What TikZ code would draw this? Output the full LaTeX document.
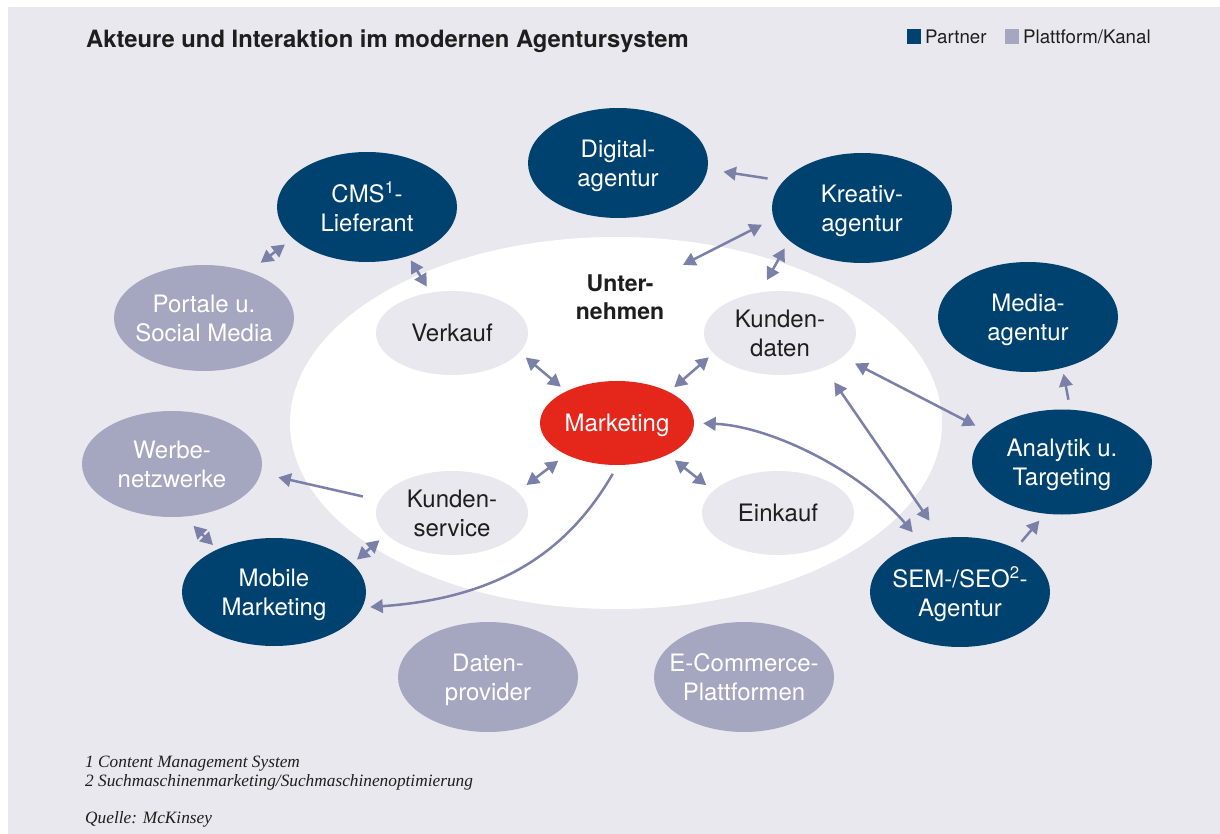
\documentclass[tikz,border=0pt]{standalone}
\usepackage{fontspec}
\setmainfont{TeX Gyre Heros}
\newfontfamily\notesfont{Liberation Serif}
\usetikzlibrary{shapes.geometric,arrows.meta}
\definecolor{bgc}{RGB}{233,232,239}
\definecolor{navy}{RGB}{0,66,111}
\definecolor{plat}{RGB}{165,166,192}
\definecolor{arrowc}{RGB}{122,128,168}
\definecolor{mred}{RGB}{228,38,27}
\definecolor{ink}{RGB}{30,30,30}
\newcommand\mynodefont{\fontsize{24}{29}\selectfont}
\begin{document}
\begin{tikzpicture}[x=1pt,y=-1pt,
  blob/.style={ellipse, inner sep=0pt, inner xsep=-40pt, align=center, text depth=0pt, font=\mynodefont},
  partner/.style={blob, fill=navy, text=white, minimum width=180pt, minimum height=110pt},
  platform/.style={blob, fill=plat, text=white, minimum width=180pt, minimum height=106pt},
  innerblob/.style={blob, fill=bgc, text=ink, minimum width=152pt, minimum height=84pt},
  onehead/.style={draw=arrowc, line width=2.5pt, -{Triangle[length=12.5pt,width=13.5pt]}},
  twohead/.style={draw=arrowc, line width=2.5pt, {Triangle[length=12.5pt,width=13.5pt]}-{Triangle[length=12.5pt,width=13.5pt]}},
  legtext/.style={anchor=base west, inner sep=0pt, text=ink, font=\fontsize{18.7}{22}\selectfont},
  note/.style={anchor=base west, inner sep=0pt, text=ink, font=\notesfont\itshape\fontsize{17.3}{20}\selectfont}
]
\useasboundingbox (0,0) rectangle (1220,834);
\fill[white] (0,0) rectangle (1220,834);
\fill[bgc] (8,7) rectangle (1220,834);

% title and legend
\node[anchor=base west, inner sep=0pt, text=ink, font=\bfseries\fontsize{23.8}{28}\selectfont] (title) at (86,48) {Akteure und Interaktion im modernen Agentursystem};
\node[fill=navy, minimum width=14pt, minimum height=15pt, inner sep=0pt] (legpartner) at (914,36.5) {};
\node[legtext] (legpartnertext) at (925,43.5) {Partner};
\node[fill=plat, minimum width=14pt, minimum height=15pt, inner sep=0pt] (legplat) at (1012,36.5) {};
\node[legtext] (legplattext) at (1023,43.5) {Plattform/Kanal};

% company
\node[ellipse, fill=white, minimum width=652pt, minimum height=372pt, inner sep=0pt] (unt) at (616,423) {};
\node[align=center, inner sep=0pt, text=ink, font=\bfseries\fontsize{23}{28}\selectfont] (untlabel) at (620,297) {Unter-\\nehmen};

% inner units
\node[innerblob] (ver) at (452,333) {Verkauf};
\node[innerblob] (kud) at (780,333) {Kunden-\\daten};
\node[blob, fill=mred, text=white, minimum width=154pt, minimum height=84pt] (mkt) at (617,423) {Marketing};
\node[innerblob] (kus) at (452,513) {Kunden-\\service};
\node[innerblob] (ein) at (778,513) {Einkauf};

% partners
\node[partner] (dig) at (618,163) {Digital-\\agentur};
\node[partner] (kre) at (862,208) {Kreativ-\\agentur};
\node[partner] (cms) at (367,207) {CMS\textsuperscript{1}-\\Lieferant};
\node[partner] (med) at (1028,317) {Media-\\agentur};
\node[partner, minimum height=105pt] (ana) at (1062,462) {Analytik u.\\Targeting};
\node[partner, minimum width=184pt, minimum height=108pt] (mob) at (274,592) {Mobile\\Marketing};
\node[partner] (sem) at (960,592) {SEM-/SEO\textsuperscript{2}-\\Agentur};

% platforms
\node[platform] (por) at (204,318) {Portale u.\\Social Media};
\node[platform] (wer) at (172,464) {Werbe-\\netzwerke};
\node[platform, minimum height=110pt] (dat) at (488,677) {Daten-\\provider};
\node[platform, minimum height=110pt] (eco) at (744,677) {E-Commerce-\\Plattformen};

% connectors
\draw[onehead, shorten <=16pt, shorten >=16pt] (kre.161) -- (dig.-4);
\draw[twohead, shorten <=13pt, shorten >=21pt] (kre.187) -- (untlabel.north east);
\draw[twohead, shorten <=9pt, shorten >=14pt] (kre.204) -- (kud.116);
\draw[twohead, shorten <=10pt, shorten >=15pt] (cms.203) -- (por.46);
\draw[twohead, shorten <=5pt, shorten >=7pt] (cms.-50) -- (ver.118);
\draw[twohead, shorten <=8pt, shorten >=7pt] (ver.-16) -- (mkt.148);
\draw[twohead, shorten <=6pt, shorten >=7pt] (kud.197) -- (mkt.31);
\draw[twohead, shorten <=10pt, shorten >=11pt] (mkt.212) -- (kus.18);
\draw[twohead, shorten <=9pt, shorten >=9pt] (mkt.-32) -- (ein.161);
\draw[onehead, shorten <=17pt, shorten >=18pt] (kus.170) -- (wer.-6);
\draw[twohead, shorten <=9pt, shorten >=6pt] (kus.198) -- (mob.20);
\draw[twohead, shorten <=13pt, shorten >=6pt] (wer.-77) -- (mob.143);
\draw[onehead, shorten <=10pt, shorten >=8pt] (mkt.-89) .. controls (568,551) and (500,598) .. (mob.-10);
\draw[twohead, shorten <=9pt, shorten >=13pt] (mkt.0) .. controls (770,426) and (860,470) .. (sem.128);
\draw[twohead, shorten <=18pt, shorten >=21pt] (kud.-38) -- (sem.109);
\draw[twohead, shorten <=14pt, shorten >=14pt] (kud.-21) -- (ana.158);
\draw[onehead, shorten <=10pt, shorten >=6pt] (ana.81) -- (med.-56);
\draw[onehead, shorten <=9pt, shorten >=9pt] (sem.38) -- (ana.252);

% notes
\node[note] (note1) at (85,767) {1 Content Management System};
\node[note] (note2) at (85,786) {2 Suchmaschinenmarketing/Suchmaschinenoptimierung};
\node[note] (note3) at (85,823) {Quelle: McKinsey};
\end{tikzpicture}
\end{document}
